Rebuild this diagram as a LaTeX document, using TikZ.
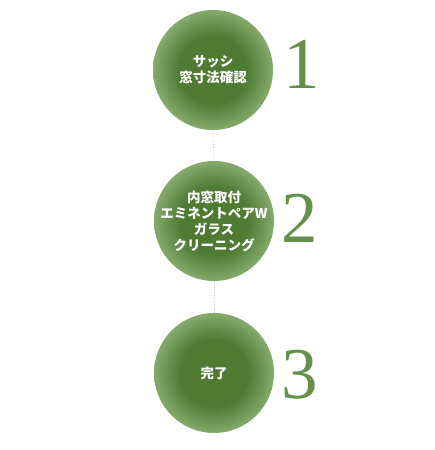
\documentclass[tikz,border=0pt]{standalone}
\usepackage{fontspec}
\newfontfamily\jpfont{Noto Sans CJK JP}
\setmainfont{Liberation Serif}
\usepackage{xcolor}
\usepackage{tikz}
\usetikzlibrary{positioning}

\definecolor{stepinner}{RGB}{78,122,50}
\definecolor{stepouter}{RGB}{134,170,108}
\definecolor{numgreen}{RGB}{100,144,76}
\definecolor{dotgray}{RGB}{190,190,200}
\pgfdeclareradialshading{stepshade}{\pgfpoint{0bp}{0bp}}{%
  color(0bp)=(stepinner); color(14bp)=(stepinner); color(25bp)=(stepouter); color(50bp)=(stepouter)}

\tikzset{
  stepcircle/.style={circle, shading=stepshade, minimum size=120pt, inner sep=0pt},
  steptext/.style={align=center, text=white, font=\jpfont\bfseries\fontsize{13.5}{16}\selectfont},
  stepnum/.style={inner sep=0pt, text=numgreen, font=\fontsize{73}{73}\selectfont},
  link/.style={dotgray, dotted, line width=0.8pt}
}

\begin{document}
\begin{tikzpicture}[x=1pt, y=-1pt]
    \useasboundingbox (0,0) rectangle (434,450);

    % Kreise
    \node [stepcircle] (step1) at (213,70) {};
    \node [stepcircle] (step2) at (214,221) {};
    \node [stepcircle] (step3) at (214,373) {};

    \node [steptext] (label1) at (step1) {サッシ\\窓寸法確認};
    \node [steptext] (label2) at (step2) {内窓取付\\エミネントペアW\\ガラス\\クリーニング};
    \node [steptext] (label3) at (step3) {完了};

    % Nummern
    \node [stepnum, right=10pt of step1, yshift=6pt] (num1) {1};
    \node [stepnum, right=7pt of step2, yshift=3pt] (num2) {2};
    \node [stepnum, right=7pt of step3, yshift=-2pt] (num3) {3};

    % Verbindungen
    \draw [link] (step1.south) -- (step2.north);
    \draw [link] (step2.south) -- (step3.north);

\end{tikzpicture}
\end{document}
